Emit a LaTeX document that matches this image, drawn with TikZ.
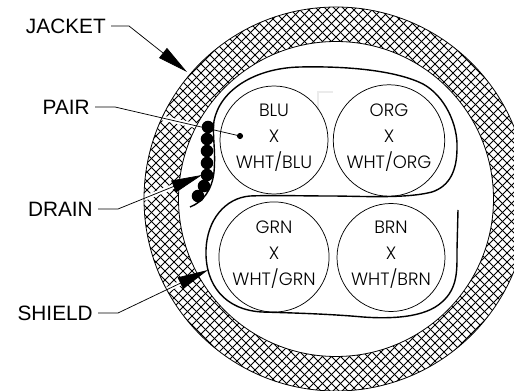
\documentclass[tikz,border=0pt]{standalone}
\usepackage{fontspec}
\setmainfont{Liberation Sans}
\newfontfamily\geofont{Poppins Light}
\usetikzlibrary{arrows.meta}
\newcommand{\liftstrut}{\rule[-6pt]{0pt}{6pt}}
\tikzset{
  callout/.style={font=\fontsize{15.6}{18}\selectfont,inner sep=0pt},
  pairdisc/.style={circle,draw,line width=0.55pt,minimum size=81pt,inner sep=0pt,align=center,font=\geofont\fontsize{13.4}{19.5}\selectfont},
  shieldline/.style={line width=1.05pt},
  leader/.style={line width=0.55pt},
  leaderarrow/.style={leader,-{Triangle[length=23pt,width=9.5pt]}},
  halo/.style={draw=white,line width=3.6pt},
  hatchline/.style={line width=0.55pt},
  bead/.style={circle,fill=black,inner sep=0pt,minimum size=9.4pt}
}
\begin{document}
\begin{tikzpicture}[x=0.75pt,y=-0.75pt]
\useasboundingbox (0,0) rectangle (514,391);
% jacket ring
\coordinate (hub) at (336,199);
\begin{scope}
  \clip (hub) circle[radius=192];
  \foreach \k in {-80,...,80}{
    \draw[hatchline] (336+\k*9-220,199-220) -- (336+\k*9+220,199+220);
    \draw[hatchline] (336+\k*9-220,199+220) -- (336+\k*9+220,199-220);
  }
\end{scope}
% labels and leader corners
\node[callout,anchor=east] (jacket) at (106,26) {JACKET};
\node[callout,anchor=east] (pair) at (90,107) {PAIR};
\node[callout,anchor=east] (drain) at (93,209) {DRAIN};
\node[callout,anchor=east] (shield) at (93,313) {SHIELD};
\coordinate (jacketstart) at (111,26);
\coordinate (jacketbend) at (129,26);
\coordinate (jackettip) at (187,72);
\coordinate (pairstart) at (95,107);
\coordinate (pairbend) at (115,107);
\coordinate (pairend) at (240,136);
\coordinate (drainstart) at (98,209);
\coordinate (drainbend) at (118,209);
\coordinate (draintip) at (202,175);
\coordinate (shieldstart) at (98,313);
\coordinate (shieldbend) at (118,313);
\coordinate (shieldtip) at (208,270);
% white gaps in the hatching
\draw[halo] (pairbend) -- (pairend);
\draw[halo] (drainbend) -- (draintip);
\draw[halo] (shieldbend) -- (shieldtip);
\fill[white] (hub) circle[radius=157.5];
\draw[line width=0.6pt] (hub) circle[radius=192] (hub) circle[radius=157.5];
% faint mark
\draw[color=black!8!white,line width=2pt] (318,110) -- (318,92) -- (333,92);
% pair circles
\node[pairdisc] (blu) at (274,140) {BLU\\X\\WHT/BLU\liftstrut};
\node[pairdisc] (org) at (389,140.5) {ORG\\X\\WHT/ORG\liftstrut};
\node[pairdisc] (grn) at (274,257) {GRN\\X\\WHT/GRN\liftstrut};
\node[pairdisc] (brn) at (391,257.5) {BRN\\X\\WHT/BRN\liftstrut};
% shields
\draw[shieldline] (190,207) .. controls (203,202) and (212,190) .. (214,172)
  .. controls (216,150) and (212,135) .. (214,121)
  .. controls (220,90) and (255,68) .. (300,67)
  .. controls (345,66) and (395,70) .. (423,84)
  .. controls (445,96) and (458,125) .. (457,148)
  .. controls (457,170) and (450,186) .. (432,192)
  .. controls (405,199) and (360,196) .. (330,196)
  .. controls (300,196) and (275,195) .. (250,196)
  .. controls (225,198) and (207,220) .. (206,250)
  .. controls (205,285) and (225,310) .. (262,312)
  .. controls (295,313) and (330,314) .. (363,317)
  .. controls (390,319) and (425,318) .. (442,302)
  .. controls (458,288) and (457,270) .. (457,250)
  -- (458,210);
% drain beads
\foreach \n/\p in {a/{208,127},b/{207,139},c/{207,151},d/{207,163},e/{207,175},f/{204,186},g/{198,196}}
  \node[bead] (bead\n) at (\p) {};
\node[circle,fill=black,inner sep=0pt,minimum size=4.6pt] (pairdot) at (pairend) {};
% leaders
\draw[leaderarrow] (jacketstart) -- (jacketbend) -- (jackettip);
\draw[leader] (pairstart) -- (pairbend) -- (pairdot.center);
\draw[leaderarrow] (drainstart) -- (drainbend) -- (draintip);
\draw[leaderarrow] (shieldstart) -- (shieldbend) -- (shieldtip);
\end{tikzpicture}
\end{document}
